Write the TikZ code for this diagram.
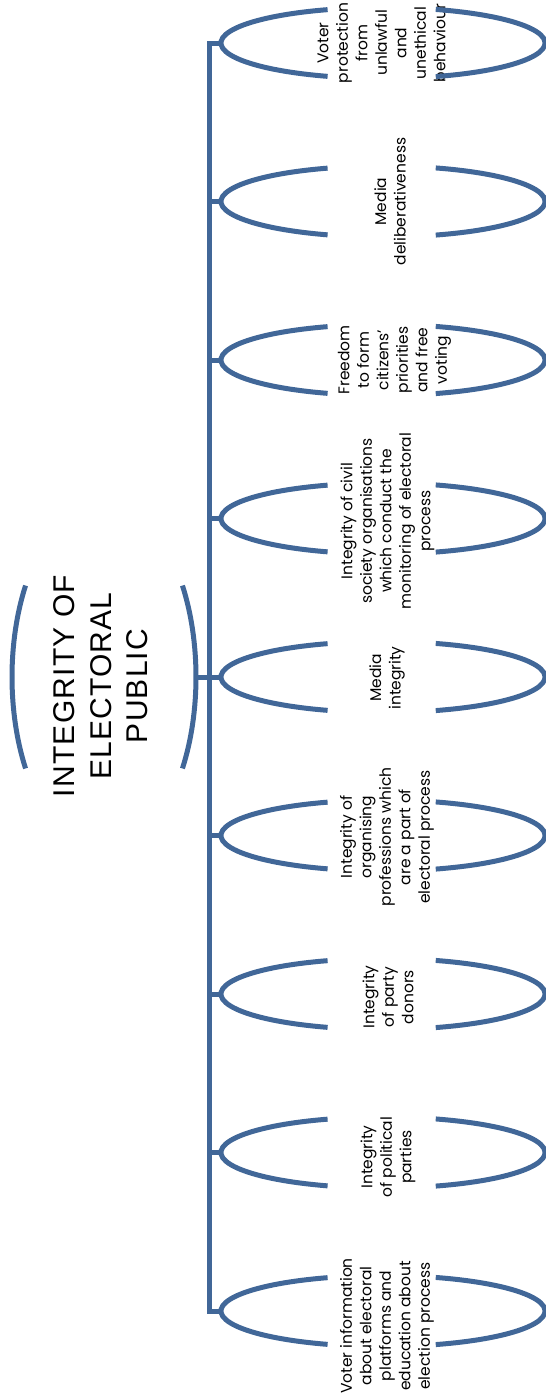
\documentclass[tikz,border=0pt]{standalone}
\usepackage{fontspec}
\setmainfont{Poppins}
\newfontfamily\titlefont[LetterSpace=4]{Liberation Sans}
\definecolor{eblue}{RGB}{65,103,152}
\begin{document}
\begin{tikzpicture}[x=1pt,y=-1pt,
  conn/.style={draw=eblue, line width=5pt},
  lbl/.style={rotate=90, align=center, font=\fontsize{15.5}{19.5}\selectfont, inner sep=0pt},
  ttl/.style={rotate=90, align=center, font=\titlefont\fontsize{30}{36.5}\selectfont, inner sep=0pt}]
\useasboundingbox (0,0) rectangle (546,1400);
% title
\node[ttl] (title) at (101,686) {INTEGRITY OF\\ELECTORAL\\PUBLIC};
\coordinate (bc) at (104,677);
\draw[conn] ([shift={(148.5:92pt and 175pt)}]bc) arc[start angle=148.5,end angle=211.5,x radius=92pt,y radius=175pt];
\draw[conn] ([shift={(-31.5:92pt and 175pt)}]bc) arc[start angle=-31.5,end angle=31.5,x radius=92pt,y radius=175pt];
\coordinate (tb) at (195,677);
% ovals
\foreach \i/\yy/\tx/\ty/\txt in {
 1/43/381.5/43/{Voter\\protection\\from\\unlawful\\and\\unethical\\behaviour},
 2/201.5/390/201.5/{Media\\deliberativeness},
 3/360/394.5/360/{Freedom\\to form\\citizens’\\priorities\\and free\\voting},
 4/518.5/387.5/521/{Integrity of civil\\society organisations\\which conduct the\\monitoring of electoral\\process},
 5/677/387/678/{Media\\integrity},
 6/835.5/387/837/{Integrity of\\organising\\professions which\\are a part of\\electoral process},
 7/994/388/997/{Integrity\\of party\\donors},
 8/1152.5/388/1157/{Integrity\\of political\\parties},
 9/1311/387/1326/{Voter information\\about electoral\\platforms and\\education about\\election process}}{
  \coordinate (o\i) at (383,\yy);
  \coordinate (l\i) at (221,\yy);
  \coordinate (j\i) at (209,\yy);
  \node[lbl] (t\i) at (\tx,\ty) {\txt};
  \draw[conn] ([shift={(110:162pt and 35.5pt)}]o\i) arc[start angle=110,end angle=250,x radius=162pt,y radius=35.5pt];
  \draw[conn] ([shift={(-71:162pt and 35.5pt)}]o\i) arc[start angle=-71,end angle=71,x radius=162pt,y radius=35.5pt];
}
% trunk and branches
\draw[conn] (l1) -- (j1) -- (j9) -- (l9);
\foreach \i in {2,...,8}{\draw[conn] (j\i) -- (l\i);}
\draw[conn] (tb) -- (j5);
\end{tikzpicture}
\end{document}
